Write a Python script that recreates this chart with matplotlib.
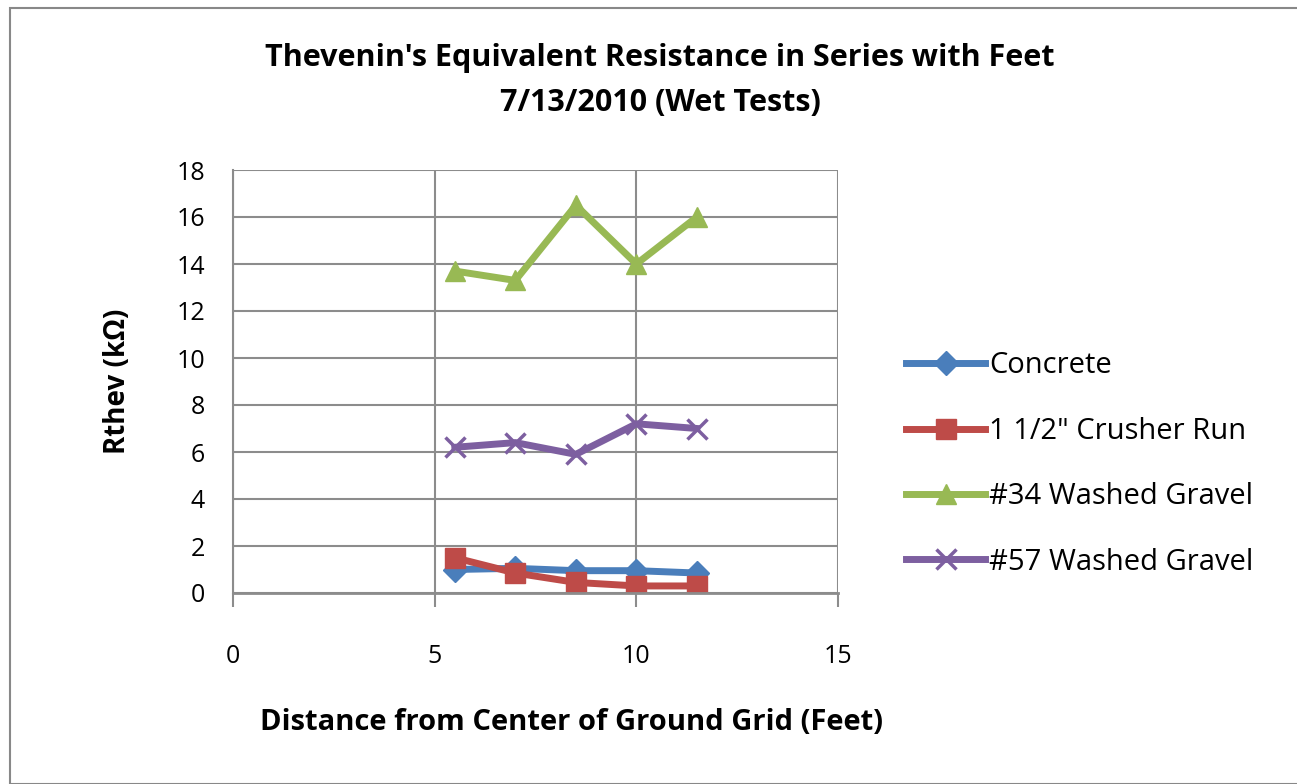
import matplotlib
matplotlib.use("Agg")
import matplotlib.pyplot as plt
from matplotlib.patches import Rectangle

plt.rcParams['font.family'] = ['Open Sans', 'DejaVu Sans']

distance = [5.5, 7.0, 8.5, 10.0, 11.5]
concrete = [1.0, 1.05, 0.95, 0.95, 0.85]
crusher_run = [1.5, 0.85, 0.45, 0.3, 0.3]
gravel_34 = [13.7, 13.3, 16.5, 14.0, 16.0]
gravel_57 = [6.2, 6.4, 5.9, 7.2, 7.0]

series = [
    ("Concrete", concrete, "#4A7EBB", "D", 12),
    ("1 1/2\" Crusher Run", crusher_run, "#BE4B48", "s", 14),
    ("#34 Washed Gravel", gravel_34, "#98B954", "^", 15),
    ("#57 Washed Gravel", gravel_57, "#7D5FA0", "x", 15),
]

fig = plt.figure(figsize=(12.97, 7.84), dpi=100)
fig.patches.append(Rectangle((10 / 1297, 0), 1.0, 1 - 8 / 784,
                             transform=fig.transFigure, fill=False,
                             edgecolor="#888888", linewidth=1.5))

ax = fig.add_axes([233 / 1297, 1 - 593 / 784, (838 - 233) / 1297, (593 - 170) / 784])
for label, vals, color, marker, ms in series:
    kw = dict(markeredgewidth=2.5) if marker == "x" else dict(markeredgecolor=color)
    ax.plot(distance, vals, color=color, linewidth=5, marker=marker,
            markersize=ms, label=label, solid_joinstyle="round", **kw)

ax.set_xlim(0, 15)
ax.set_ylim(0, 18)
ax.set_xticks([0, 5, 10, 15])
ax.set_yticks(range(0, 19, 2))
ax.grid(True, color="#8c8c8c", linewidth=1.5)
ax.set_axisbelow(True)
for side in ["top", "right"]:
    ax.spines[side].set_visible(False)
ax.spines["left"].set_color("#8c8c8c")
ax.spines["bottom"].set_color("#8c8c8c")
ax.spines["left"].set_linewidth(1.5)
ax.spines["bottom"].set_linewidth(2)
ax.tick_params(axis="x", length=10, width=1.5, color="#8c8c8c", pad=27, labelsize=18)
ax.tick_params(axis="y", length=0, pad=20, labelsize=18)

ax.set_ylabel("Rthev (kΩ)", fontsize=20, fontweight="bold", labelpad=32)

fig.text(572 / 1297, 1 - 722 / 784, "Distance from Center of Ground Grid (Feet)",
         ha="center", va="center", fontsize=21, fontweight="bold")
fig.text(660 / 1297, 1 - 58 / 784, "Thevenin's Equivalent Resistance in Series with Feet",
         ha="center", va="center", fontsize=22, fontweight="bold")
fig.text(660 / 1297, 1 - 103 / 784, "7/13/2010 (Wet Tests)",
         ha="center", va="center", fontsize=22, fontweight="bold")

fig.legend(loc="center left", bbox_to_anchor=(880 / 1297, 1 - 464 / 784),
           frameon=False, fontsize=21, labelspacing=1.25, handlelength=2.7,
           handletextpad=0.15)

fig.savefig("out.png", dpi=100, facecolor="white")
